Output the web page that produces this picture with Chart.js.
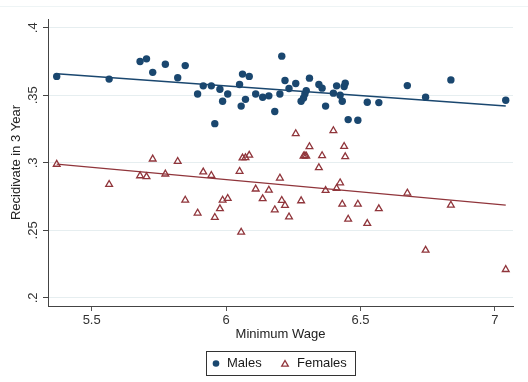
<!DOCTYPE html>
<html><head><meta charset="utf-8">
<script src="https://cdn.jsdelivr.net/npm/chart.js@4/dist/chart.umd.min.js"></script>
<style>html,body{margin:0;padding:0;background:#fff}#wrap{position:relative;width:528px;height:382px}</style>
</head><body><div id="wrap"><canvas id="c" width="528" height="382"></canvas></div>
<script>
// ---- data ----
const minimumWage = [5.37, 5.565, 5.68, 5.704, 5.727, 5.774, 5.82, 5.848, 5.894, 5.915, 5.945, 5.958, 5.977, 5.987, 6.006, 6.05, 6.056, 6.061, 6.072, 6.086, 6.11, 6.136, 6.159, 6.181, 6.2, 6.207, 6.219, 6.234, 6.259, 6.279, 6.288, 6.293, 6.298, 6.31, 6.345, 6.357, 6.37, 6.399, 6.411, 6.424, 6.432, 6.439, 6.443, 6.454, 6.49, 6.525, 6.568, 6.674, 6.742, 6.836, 7.04];
const malesRate = [0.364, 0.362, 0.375, 0.377, 0.367, 0.373, 0.363, 0.372, 0.351, 0.357, 0.357, 0.329, 0.3545, 0.3456, 0.351, 0.358, 0.342, 0.3657, 0.347, 0.364, 0.351, 0.3486, 0.3496, 0.338, 0.351, 0.379, 0.361, 0.355, 0.3587, 0.3456, 0.348, 0.351, 0.3535, 0.3627, 0.358, 0.3553, 0.342, 0.3516, 0.357, 0.350, 0.3456, 0.3565, 0.359, 0.332, 0.3315, 0.3449, 0.3446, 0.3572, 0.3486, 0.3614, 0.3463];
const femalesRate = [0.2989, 0.284, 0.2904, 0.2897, 0.3028, 0.2917, 0.3011, 0.2724, 0.2628, 0.2932, 0.2907, 0.2596, 0.266, 0.2724, 0.2737, 0.2937, 0.2487, 0.3036, 0.3038, 0.3056, 0.2806, 0.2734, 0.2798, 0.2652, 0.2887, 0.2722, 0.2685, 0.260, 0.3216, 0.2719, 0.305, 0.3053, 0.305, 0.312, 0.2964, 0.3053, 0.2796, 0.3238, 0.2811, 0.2852, 0.2694, 0.3122, 0.3045, 0.2583, 0.2694, 0.2551, 0.266, 0.2776, 0.2353, 0.2687, 0.221];
const fitWage = [5.37, 7.04];
const malesFit = [0.366, 0.342];
const femalesFit = [0.299, 0.2687];
const xTicks = [5.5, 6, 6.5, 7];
const xTickLabels = ['5.5', '6', '6.5', '7'];
const yTicks = [0.2, 0.25, 0.3, 0.35, 0.4];
const yTickLabels = ['.2', '.25', '.3', '.35', '.4'];
const seriesNames = ['Males', 'Females'];
const xTitle = 'Minimum Wage';
const yTitle = 'Recidivate in 3 Year';

const NAVY = '#1a476f', MAROON = '#90353b';
const FONT = '"Liberation Sans", Arial, sans-serif';
Chart.defaults.font.family = FONT;

const pts = (xs, ys) => xs.map((x, i) => ({x: x, y: ys[i]}));

const customText = {
  id: 'customText',
  beforeDraw(chart) {
    const ctx = chart.ctx;
    ctx.save();
    ctx.strokeStyle = '#eef4f5';
    ctx.lineWidth = 1;
    ctx.beginPath(); ctx.moveTo(0, 6.5); ctx.lineTo(528, 6.5); ctx.stroke();
    ctx.restore();
  },
  afterDraw(chart) {
    const ctx = chart.ctx, ys = chart.scales.y;
    ctx.save();
    ctx.font = '13px ' + FONT;
    ctx.fillStyle = '#333';
    ctx.textAlign = 'center';
    ctx.textBaseline = 'middle';
    yTicks.forEach((v, i) => {
      const py = ys.getPixelForValue(v);
      ctx.save();
      ctx.translate(33, py);
      ctx.rotate(-Math.PI / 2);
      ctx.fillText(yTickLabels[i], 0, 0);
      ctx.restore();
    });
    // legend
    const top = 351.5, h = 24, cy = top + h / 2;
    ctx.strokeStyle = '#333';
    ctx.lineWidth = 1;
    ctx.strokeRect(206.5, top, 149, h);
    ctx.fillStyle = NAVY;
    ctx.beginPath(); ctx.arc(216, cy, 3.3, 0, Math.PI * 2); ctx.fill();
    ctx.strokeStyle = MAROON; ctx.lineWidth = 1.3;
    const tr = 3.8, tx = 285, tyc = cy + 0.8;
    ctx.beginPath();
    ctx.moveTo(tx, tyc - tr);
    ctx.lineTo(tx + tr * 0.866, tyc + tr * 0.5);
    ctx.lineTo(tx - tr * 0.866, tyc + tr * 0.5);
    ctx.closePath(); ctx.stroke();
    ctx.fillStyle = '#1a1a1a';
    ctx.textAlign = 'left';
    ctx.fillText(seriesNames[0], 227, cy);
    ctx.fillText(seriesNames[1], 297, cy);
    ctx.restore();
  }
};

new Chart(document.getElementById('c'), {
  type: 'scatter',
  data: {
    datasets: [
      {label: seriesNames[0] + ' fit', data: pts(fitWage, malesFit), showLine: true, pointRadius: 0, borderColor: NAVY, borderWidth: 1.5, fill: false},
      {label: seriesNames[1] + ' fit', data: pts(fitWage, femalesFit), showLine: true, pointRadius: 0, borderColor: MAROON, borderWidth: 1.3, fill: false},
      {label: seriesNames[0], data: pts(minimumWage, malesRate), pointStyle: 'circle', pointRadius: 3.7, backgroundColor: NAVY, borderColor: NAVY, borderWidth: 0},
      {label: seriesNames[1], data: pts(minimumWage, femalesRate), pointStyle: 'triangle', pointRadius: 3.9, backgroundColor: 'rgba(255,255,255,0)', borderColor: MAROON, borderWidth: 1.3}
    ]
  },
  options: {
    responsive: false,
    animation: false,
    devicePixelRatio: 1,
    layout: {padding: {top: 19, right: 15, bottom: 32, left: 0}},
    plugins: {legend: {display: false}, tooltip: {enabled: false}},
    scales: {
      x: {
        type: 'linear', min: 5.3376, max: 7.067,
        afterBuildTicks: s => { s.ticks = xTicks.map(v => ({value: v})); },
        afterFit: s => { s.height = 44; },
        ticks: {callback: v => xTickLabels[xTicks.indexOf(v)], font: {size: 13}, color: '#333', padding: 2, maxRotation: 0, minRotation: 0, autoSkip: false},
        grid: {drawOnChartArea: false, drawTicks: true, tickLength: 5, tickColor: '#555', color: '#555'},
        border: {display: true, color: '#444', width: 1},
        title: {display: true, text: xTitle, font: {size: 13}, color: '#222', padding: {top: 0, bottom: 8}}
      },
      y: {
        type: 'linear', min: 0.194, max: 0.4065,
        afterBuildTicks: s => { s.ticks = yTicks.map(v => ({value: v})); },
        afterFit: s => { s.width = 48; },
        ticks: {display: false},
        grid: {drawOnChartArea: true, drawTicks: true, tickLength: 5, tickColor: '#444', color: '#e6eef0', lineWidth: 1},
        border: {display: true, color: '#444', width: 1},
        title: {display: true, text: yTitle, font: {size: 13}, color: '#222', padding: {top: 9, bottom: 0}}
      }
    }
  },
  plugins: [customText]
});
</script></body></html>
